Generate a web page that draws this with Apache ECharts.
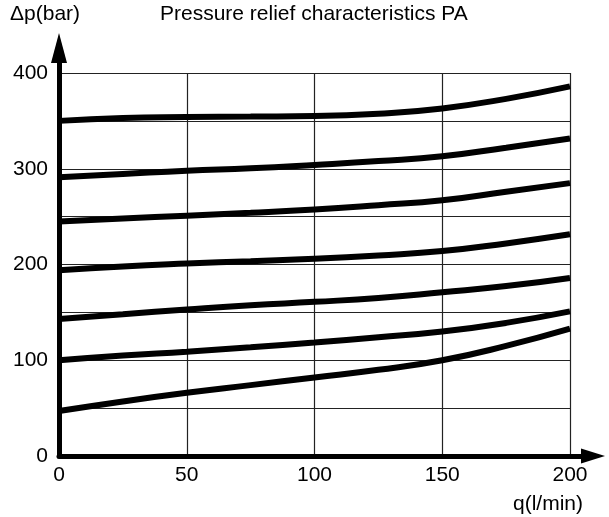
<!DOCTYPE html>
<html>
<head>
<meta charset="utf-8">
<script src="https://cdn.jsdelivr.net/npm/echarts@6/dist/echarts.min.js"></script>
<style>
  html, body { margin: 0; padding: 0; background: #fff; }
  #chart { width: 609px; height: 517px; }
</style>
</head>
<body>
<div id="chart"></div>
<script>
  // flow q (l/min) and pressure drop curves dp (bar)
  const flow = [0, 25, 50, 75, 100, 125, 150, 175, 200];
  const curve350 = [350, 353, 354, 354.5, 355, 357.5, 363, 373, 386];
  const curve290 = [291, 294.5, 298, 300.5, 304, 308, 313, 322, 331.5];
  const curve245 = [245, 248, 251, 254, 257.5, 262, 267, 276, 285];
  const curve194 = [194, 198, 201, 203.5, 206, 209.5, 214, 222, 231.5];
  const curve143 = [143, 148, 153, 157.5, 161, 165, 171, 177.5, 186];
  const curve100 = [100, 105, 109, 113.5, 118.5, 124, 130, 139, 151];
  const curve47 = [47, 57, 66, 74, 82, 90, 100, 115, 133];
  const curves = [curve350, curve290, curve245, curve194, curve143, curve100, curve47];

  const xTicks = [0, 50, 100, 150, 200];
  const yTicks = [0, 100, 200, 300, 400];

  const font = 'Liberation Sans, Arial, sans-serif';
  const chart = echarts.init(document.getElementById('chart'));

  const series = curves.map((vals) => ({
    type: 'line',
    xAxisIndex: 0,
    yAxisIndex: 0,
    smooth: 0.5,
    symbol: 'none',
    lineStyle: { color: '#000', width: 6 },
    data: flow.map((q, i) => [q, vals[i]]),
    z: 3,
  }));

  const textStyle = { fontFamily: font, fontSize: 21, fontWeight: 'normal', color: '#000' };

  chart.setOption({
    animation: false,
    title: [
      { text: 'Pressure relief characteristics PA', left: 160, top: 4, padding: 0, textStyle: textStyle },
      { text: 'Δp(bar)', left: 10, top: 4, padding: 0, textStyle: textStyle },
      { text: 'q(l/min)', left: 513, top: 494, padding: 0, textStyle: textStyle },
    ],
    grid: [
      { left: 59, right: 39, top: 73, bottom: 61 },
      { left: 59, right: 16, top: 48, bottom: 61 },
    ],
    xAxis: [
      {
        gridIndex: 0, type: 'value', min: 0, max: 200, interval: 50,
        axisLine: { show: false }, axisTick: { show: false },
        axisLabel: {
          margin: 9, color: '#000', fontFamily: font, fontSize: 21,
          formatter: (v) => (xTicks.includes(v) ? String(v) : ''),
        },
        splitLine: { show: true, lineStyle: { color: '#222', width: 1.2 } },
      },
      {
        gridIndex: 1, type: 'value', min: 0, max: 1,
        axisLine: {
          show: true, onZero: false,
          symbol: ['none', 'triangle'], symbolSize: [15, 24],
          lineStyle: { color: '#000', width: 5 },
        },
        axisTick: { show: false }, axisLabel: { show: false }, splitLine: { show: false },
      },
    ],
    yAxis: [
      {
        gridIndex: 0, type: 'value', min: 0, max: 400, interval: 50,
        axisLine: { show: false }, axisTick: { show: false },
        axisLabel: {
          margin: 11, color: '#000', fontFamily: font, fontSize: 21,
          formatter: (v) => (yTicks.includes(v) ? String(v) : ''),
        },
        splitLine: { show: true, lineStyle: { color: '#222', width: 1.2 } },
      },
      {
        gridIndex: 1, type: 'value', min: 0, max: 1,
        axisLine: {
          show: true, onZero: false,
          symbol: ['none', 'triangle'], symbolSize: [16, 30],
          lineStyle: { color: '#000', width: 5 },
        },
        axisTick: { show: false }, axisLabel: { show: false }, splitLine: { show: false },
      },
    ],
    series: series,
  });
</script>
</body>
</html>
